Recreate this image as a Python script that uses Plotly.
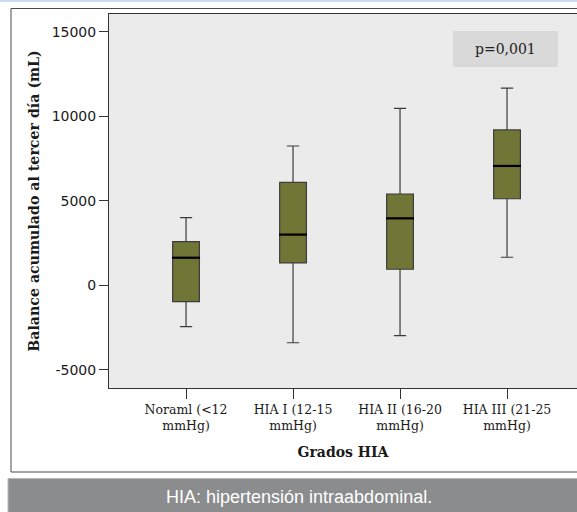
import plotly.graph_objects as go

categories = ["Noraml (&lt;12<br>mmHg)", "HIA I (12-15<br>mmHg)",
              "HIA II (16-20<br>mmHg)", "HIA III (21-25<br>mmHg)"]
lower_whisker = [-2450, -3400, -2980, 1660]
q1_values = [-970, 1320, 950, 5120]
median_values = [1630, 3000, 3960, 7060]
q3_values = [2580, 6090, 5400, 9190]
upper_whisker = [4000, 8240, 10470, 11670]
y_tick_values = [-5000, 0, 5000, 10000, 15000]
y_tick_labels = ["-5000", "0", "5000", "10000", "15000"]

W, H = 577, 512
L, R, T, B = 109, 0, 14, 124
pw, ph = W - L - R, H - T - B


def px(x):
    return (x - L) / pw


def py(y):
    return (H - B - y) / ph


fig = go.Figure()
fig.add_trace(go.Box(
    x=categories, q1=q1_values, median=median_values, q3=q3_values,
    lowerfence=lower_whisker, upperfence=upper_whisker,
    fillcolor="#717535", line=dict(color="#3c3c3c", width=1.2),
    width=0.25, whiskerwidth=0.46, boxpoints=False, showlegend=False,
))
fig.add_trace(go.Scatter(
    x=categories, y=median_values, mode="markers", showlegend=False,
    marker=dict(symbol="line-ew", size=20, line=dict(color="#000000", width=2.2)),
))

shapes = [
    dict(type="rect", xref="paper", yref="paper", x0=px(11), x1=px(590),
         y0=py(472), y1=py(8.5), line=dict(color="#4a4a4a", width=1), layer="below"),
    dict(type="rect", xref="paper", yref="paper", x0=px(0), x1=px(590),
         y0=py(2), y1=py(-2), line=dict(width=0), fillcolor="#c9dcf2", layer="below"),
    dict(type="rect", xref="paper", yref="paper", x0=px(8), x1=px(590),
         y0=py(520), y1=py(478.5), line=dict(color="#b8b9bb", width=1),
         fillcolor="#8b8c8e", layer="above"),
    dict(type="rect", xref="paper", yref="paper", x0=px(453), x1=px(558),
         y0=py(67), y1=py(31), line=dict(width=0), fillcolor="#d9d9d9", layer="below"),
]

annotations = [
    dict(text="p=0,001", xref="paper", yref="paper", x=px(505.5), y=py(49),
         xanchor="center", yanchor="middle", showarrow=False,
         font=dict(family="DejaVu Serif", size=14, color="#222222")),
    dict(text="HIA: hipertensión intraabdominal.", xref="paper", yref="paper",
         x=px(299), y=py(497), xanchor="center", yanchor="middle", showarrow=False,
         font=dict(family="Liberation Sans", size=18, color="#ffffff")),
]

fig.update_layout(
    width=W, height=H, margin=dict(l=L, r=R, t=T, b=B),
    paper_bgcolor="#ffffff", plot_bgcolor="#ebebeb",
    shapes=shapes, annotations=annotations, showlegend=False,
    xaxis=dict(
        type="category", range=[-0.72, 3.654], showgrid=False, zeroline=False,
        showline=True, linecolor="#333333", linewidth=1, mirror=True,
        ticks="outside", ticklen=10, tickcolor="#333333",
        tickfont=dict(family="DejaVu Serif", size=12.5, color="#1a1a1a"),
        title=dict(text="<b>Grados HIA</b>", standoff=14,
                   font=dict(family="DejaVu Serif", size=14, color="#1a1a1a")),
    ),
    yaxis=dict(
        range=[-6077, 16050], tickvals=y_tick_values, ticktext=y_tick_labels,
        showgrid=False, zeroline=False,
        showline=True, linecolor="#333333", linewidth=1, mirror=False,
        ticks="outside", ticklen=9, tickcolor="#333333",
        tickfont=dict(family="DejaVu Sans", size=14, color="#1a1a1a"),
        title=dict(text="<b>Balance acumulado al tercer día (mL)</b>", standoff=8,
                   font=dict(family="DejaVu Serif", size=14.2, color="#1a1a1a")),
    ),
)

fig.write_html("out.html")
